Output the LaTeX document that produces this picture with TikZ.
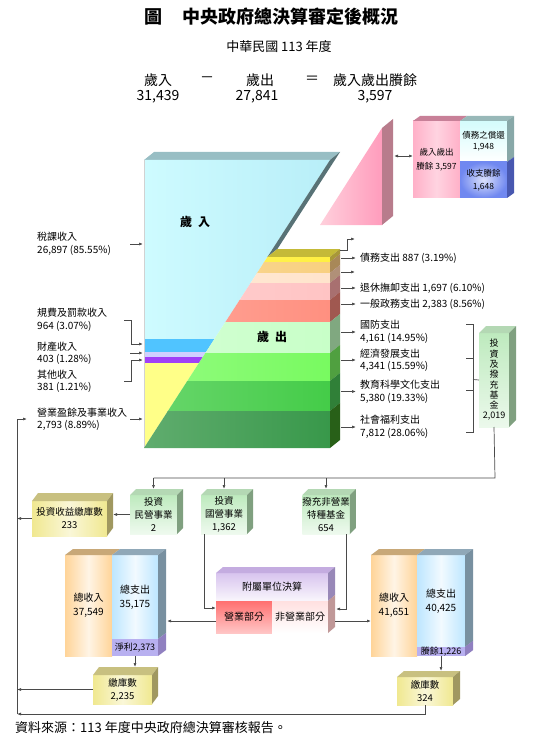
\documentclass[tikz,border=0pt]{standalone}
\usepackage{fontspec}
\setmainfont{Noto Sans CJK TC}
\usepackage{tikz}
\usetikzlibrary{positioning,arrows.meta,calc}
\definecolor{linkcolor}{HTML}{4A4A4A}
\definecolor{revtop}{HTML}{98BEC4}
\definecolor{revside}{HTML}{587276}
\definecolor{rev1}{HTML}{CEFBFF}
\definecolor{rev1b}{HTML}{B8EEF8}
\definecolor{rev2}{HTML}{50C4FF}
\definecolor{rev3}{HTML}{D0D0FF}
\definecolor{rev4}{HTML}{A040F8}
\definecolor{rev5}{HTML}{FFFF88}
\definecolor{exptop}{HTML}{C4BA38}
\definecolor{f1}{HTML}{FFF040}
\definecolor{f2}{HTML}{F8D080}
\definecolor{f3}{HTML}{FFE4CC}
\definecolor{f4}{HTML}{FFC4C4}
\definecolor{f5}{HTML}{FF9080}
\definecolor{f6}{HTML}{C8FFC8}
\definecolor{f7}{HTML}{78FA60}
\definecolor{f8}{HTML}{44CC48}
\definecolor{f9}{HTML}{38984A}
\definecolor{s1}{HTML}{A89838}
\definecolor{s2}{HTML}{A88858}
\definecolor{s3}{HTML}{B09078}
\definecolor{s4}{HTML}{A87070}
\definecolor{s5}{HTML}{A05850}
\definecolor{s6}{HTML}{80A880}
\definecolor{s7}{HTML}{50A040}
\definecolor{s8}{HTML}{308038}
\definecolor{s9}{HTML}{286018}
\definecolor{pinkA}{HTML}{FFD0DC}
\definecolor{pinkB}{HTML}{FF9CBC}
\definecolor{pinkside}{HTML}{B87C8C}
\definecolor{pinktop}{HTML}{C88098}
\definecolor{pinkbox}{HTML}{FFB0C8}
\definecolor{cyanbox}{HTML}{D4FCFC}
\definecolor{cyantop}{HTML}{98B8B8}
\definecolor{cyanside}{HTML}{88A8A8}
\definecolor{bluebox}{HTML}{7088F0}
\definecolor{blueside}{HTML}{4858B0}
\definecolor{grnbox}{HTML}{BEEABE}
\definecolor{grntop}{HTML}{B4D8B4}
\definecolor{grnside}{HTML}{80A080}
\definecolor{ylwbox}{HTML}{F0E890}
\definecolor{ylwtop}{HTML}{C8C080}
\definecolor{ylwside}{HTML}{A09860}
\definecolor{orgbox}{HTML}{FFD498}
\definecolor{orgtop}{HTML}{C8A878}
\definecolor{skybox}{HTML}{BDE6FF}
\definecolor{skytop}{HTML}{90A8B8}
\definecolor{skyside}{HTML}{7890A0}
\definecolor{netbox}{HTML}{B8B0F0}
\definecolor{netside}{HTML}{9080C0}
\definecolor{attbox}{HTML}{D8C4EE}
\definecolor{atttop}{HTML}{C4ACE0}
\definecolor{attside}{HTML}{9888B8}
\definecolor{bizbox}{HTML}{FF7070}
\definecolor{nonbox}{HTML}{FFE0E0}
\definecolor{lowside}{HTML}{C09898}

\newcommand{\boxfont}{\fontsize{9.5}{13}\selectfont}
\newcommand{\lblfont}{\fontsize{10}{12.5}\selectfont}
\newcommand{\cubetop}[4]{\fill[#4] (#1.north west) -- ++(#3) -- ($(#2.north east)+(#3)$) -- (#2.north east) -- cycle;}
\newcommand{\cubeside}[4]{\fill[#4] (#1.north east) -- ++(#3) -- ($(#2.south east)+(#3)$) -- (#2.south east) -- cycle;}

\begin{document}
\begin{tikzpicture}[x=1pt, y=-1pt, >={Latex[length=4pt,width=3pt]},
    face/.style={inner sep=0pt, outer sep=0pt, align=center, font=\boxfont},
    lbl/.style={inner sep=0pt, align=left, anchor=west, font=\lblfont},
    eq/.style={inner sep=0pt, font=\fontsize{14}{16}\selectfont},
    link/.style={draw=linkcolor, line width=0.7pt},
  ]
  \useasboundingbox (0,0) rectangle (540,743);

  \node[font=\fontsize{18}{20}\selectfont\bfseries] (title) at (271,17) {圖\hspace{20pt}中央政府總決算審定後概況};
  \node[font=\fontsize{13}{15}\selectfont] (year) at (279,47) {中華民國 113 年度};
  \node[eq] (rev) at (158,80) {歲入};
  \node[eq] (revn) at (158,97) {31,439};
  \node[eq] (minus) at (207,80) {－};
  \node[eq] (exp) at (260,80) {歲出};
  \node[eq] (expn) at (257,97) {27,841};
  \node[eq] (equal) at (312,80) {＝};
  \node[eq] (bal) at (375,80) {歲入歲出賸餘};
  \node[eq] (baln) at (375,97) {3,597};

  % revenue block
  \fill[revtop] (144,160) -- (154,152) -- (340,152) -- (330,160) -- cycle;
  \begin{scope}
    \clip (144,160) -- (330,160) -- (144,448) -- cycle;
    \shade[left color=rev1, right color=rev1b] (144,160) rectangle (330,339);
    \fill[rev2] (144,339) rectangle (330,352);
    \fill[rev3] (144,352) rectangle (330,357);
    \fill[rev4] (144,357) rectangle (330,363);
    \fill[rev5] (144,363) rectangle (330,448);
  \end{scope}
  \draw[gray!35] (144,160) -- (144,448);
  \fill[revside] (330,160) -- (340,152) -- (277.4,249) -- (267.4,257) -- cycle;

  % expenditure block
  \fill[exptop] (267.4,257) -- (277.4,249) -- (340,249) -- (330,257) -- cycle;
  \begin{scope}
    \clip (267.4,257) -- (330,257) -- (330,448) -- (144,448) -- cycle;
    \foreach \ya/\yb/\c in {257/262/f1, 262/273/f2, 273/283/f3, 283/300/f4, 300/322/f5,
        322/353/f6, 353/381/f7, 381/411/f8, 411/448/f9}
      \shade[left color=\c!80!white, right color=\c] (144,\ya) rectangle (330,\yb);
  \end{scope}
  \foreach \ya/\yb/\c in {257/262/s1, 262/273/s2, 273/283/s3, 283/300/s4, 300/322/s5,
      322/353/s6, 353/381/s7, 381/411/s8, 411/448/s9}
    \fill[\c] (330,\ya) -- (340,{\ya-8}) -- (340,{\yb-8}) -- (330,\yb) -- cycle;

  \node[font=\fontsize{12}{14}\selectfont\bfseries] (revlbl) at (195,222) {歲\hspace{6pt}入};
  \node[font=\fontsize{12}{14}\selectfont\bfseries] (explbl) at (272,337) {歲\hspace{6pt}出};

  % surplus wedge and box
  \shade[left color=pinkA, right color=pinkB] (320,225) -- (382,128) -- (382,225) -- cycle;
  \fill[pinkside] (382,128) -- (393,119) -- (393,216) -- (382,225) -- cycle;
  \coordinate (wedge) at (394,156);

  \node[face, minimum width=47pt, minimum height=77pt, left color=pinkbox, right color=pinkbox,
    middle color=pinkbox!55!white, font=\fontsize{8.5}{14}\selectfont] (gain) at (436.5,159.5) {歲入歲出\\賸餘 3,597};
  \node[face, minimum width=47pt, minimum height=41pt, top color=cyanbox, bottom color=white,
    font=\fontsize{8.5}{11}\selectfont] (repay) at (483.5,141.5) {債務之償還\\1,948};
  \node[face, minimum width=47pt, minimum height=36pt, inner color=bluebox!25!white, outer color=bluebox,
    font=\fontsize{8.5}{13}\selectfont] (surp) at (483.5,180) {收支賸餘\\1,648};
  \cubetop{gain}{gain}{7,-5}{pinktop}
  \cubetop{repay}{repay}{7,-5}{cyantop}
  \cubeside{repay}{repay}{7,-5}{cyanside}
  \cubeside{surp}{surp}{7,-5}{blueside}
  \draw[link, <->] (wedge) -- (wedge -| gain.west);

  % revenue labels
  \coordinate (lx) at (130,0);
  \coordinate (rl) at (143,0);
  \coordinate (bx) at (124,0);
  \node[lbl] (tax) at (37,244) {稅課收入\\26,897 (85.55\%)};
  \node[lbl] (fee) at (37,320) {規費及罰款收入\\964 (3.07\%)};
  \node[lbl] (prop) at (37,353) {財產收入\\403 (1.28\%)};
  \node[lbl] (oth) at (37,381.5) {其他收入\\381 (1.21\%)};
  \node[lbl] (biz) at (37,419) {營業盈餘及事業收入\\2,793 (8.89\%)};
  \coordinate (feein) at (143,344);
  \coordinate (othin) at (143,360);
  \draw[link, ->] (tax.east -| lx) -- (tax.east -| rl);
  \draw[link, ->] (fee.east -| bx) -| ($(feein)+(-12,0)$) -- (feein);
  \draw[link, ->] (prop.east -| lx) -- (prop.east -| rl);
  \draw[link, ->] (oth.east -| bx) -| ($(othin)+(-12,0)$) -- (othin);
  \draw[link, ->] (biz.east -| lx) -- (biz.east -| rl);

  % expenditure labels
  \coordinate (ex) at (341,0);
  \node[lbl] (debt) at (360,258) {債務支出 887 (3.19\%)};
  \node[lbl] (pens) at (360,288) {退休撫卹支出 1,697 (6.10\%)};
  \node[lbl] (gov) at (360,304) {一般政務支出 2,383 (8.56\%)};
  \node[lbl] (def) at (360,332) {國防支出\\4,161 (14.95\%)};
  \node[lbl] (eco) at (360,360) {經濟發展支出\\4,341 (15.59\%)};
  \node[lbl] (edu) at (360,391.5) {教育科學文化支出\\5,380 (19.33\%)};
  \node[lbl] (soc) at (360,427) {社會福利支出\\7,812 (28.06\%)};
  \coordinate (etop) at (340,250);
  \coordinate (ua) at (355,239);
  \coordinate (ub) at (355,272);
  \draw[link, ->] (etop) -- ++(7,0) |- (ua);
  \draw[link, ->] (ub -| ex) -- (ub);
  \foreach \n in {debt, pens, gov, def, eco, edu, soc}
    \draw[link, ->] (\n.west -| ex) -- ($(\n.west)+(-4,0)$);

  % investment fund
  \node[face, minimum width=30pt, minimum height=94pt, top color=grnbox, bottom color=grnbox!30!white,
    font=\fontsize{9}{10.3}\selectfont] (inv) at (494,380) {投\\資\\及\\撥\\充\\基\\金\\2,019};
  \cubetop{inv}{inv}{7,-7}{grntop}
  \cubeside{inv}{inv}{7,-7}{grnside}
  \coordinate (brt) at (473,324);
  \coordinate (brb) at (473,432);
  \draw[link] ($(brt)+(-7,0)$) -- (brt) -- (brb) -- ($(brb)+(-7,0)$);
  \draw[link] (466,358) -- (473,358);
  \draw[link] (466,390) -- (473,390);
  \draw[link] (473,379.5) -- (inv.west);

  % investment targets
  \node[face, minimum width=47pt, minimum height=39pt, top color=grnbox, bottom color=grnbox!25!white] (priv) at (153.5,514.5) {投資\\民營事業\\2};
  \node[face, minimum width=46pt, minimum height=39pt, top color=grnbox, bottom color=grnbox!25!white] (soe) at (224,514.5) {投資\\國營事業\\1,362};
  \node[face, minimum width=46pt, minimum height=39pt, top color=grnbox, bottom color=grnbox!25!white] (fund) at (326,514.5) {撥充非營業\\特種基金\\654};
  \node[face, minimum width=75pt, minimum height=35pt, left color=ylwbox, right color=ylwbox,
    middle color=ylwbox!35!white] (invtax) at (69.5,518.5) {投資收益繳庫數\\233};
  \foreach \n in {priv, soe, fund} {
    \cubetop{\n}{\n}{6,-6}{grntop}
    \cubeside{\n}{\n}{6,-6}{grnside}
  }
  \cubetop{invtax}{invtax}{6,-8}{ylwtop}
  \cubeside{invtax}{invtax}{6,-8}{ylwside}

  \coordinate (tr) at (495,478);
  \draw[link] (inv.south) -- (tr) -- (tr -| priv.north);
  \foreach \n in {priv, soe, fund}
    \draw[link, ->] (tr -| \n.north) -- ($(\n.north)+(0,-6)$);
  \draw[link, ->] (priv.west) -- ($(invtax.east |- priv.west)+(6,0)$);

  % left block (operating funds)
  \node[face, minimum width=47pt, minimum height=101pt, left color=orgbox, right color=orgbox,
    middle color=orgbox!25!white, font=\fontsize{10}{14}\selectfont] (ltotin) at (88.5,605.5) {總收入\\37,549};
  \node[face, minimum width=46pt, minimum height=84pt, left color=skybox, right color=skybox,
    middle color=skybox!20!white, font=\fontsize{10}{14}\selectfont] (ltotex) at (135,597) {總支出\\35,175};
  \node[face, minimum width=46pt, minimum height=17pt, fill=netbox, font=\fontsize{9}{11}\selectfont] (lnet) at (135,647.5) {淨利2,373};
  \cubetop{ltotin}{ltotin}{8,-6}{orgtop}
  \cubetop{ltotex}{ltotex}{8,-6}{skytop}
  \cubeside{ltotex}{ltotex}{8,-6}{skyside}
  \cubeside{lnet}{lnet}{8,-6}{netside}
  \node[face, minimum width=59pt, minimum height=29pt, left color=ylwbox, right color=ylwbox,
    middle color=ylwbox!35!white] (ltax) at (122.5,689.5) {繳庫數\\2,235};
  \cubetop{ltax}{ltax}{6,-8}{ylwtop}
  \cubeside{ltax}{ltax}{6,-8}{ylwside}

  % attached units
  \node[face, minimum width=112pt, minimum height=28pt, top color=attbox, bottom color=attbox!15!white,
    font=\fontsize{10}{12}\selectfont] (att) at (272,587) {附屬單位決算};
  \node[face, minimum width=56pt, minimum height=32pt, top color=bizbox, bottom color=bizbox!40!white,
    font=\fontsize{10}{12}\selectfont] (attbiz) at (244,617) {營業部分};
  \node[face, minimum width=56pt, minimum height=32pt, top color=nonbox, bottom color=white,
    font=\fontsize{10}{12}\selectfont] (attnon) at (300,617) {非營業部分};
  \cubetop{att}{att}{7,-6}{atttop}
  \cubeside{att}{att}{7,-6}{attside}
  \cubeside{attnon}{attnon}{7,-6}{lowside}

  % right block (non-operating funds)
  \node[face, minimum width=46pt, minimum height=101pt, left color=orgbox, right color=orgbox,
    middle color=orgbox!25!white, font=\fontsize{10}{14}\selectfont] (rtotin) at (394,605.5) {總收入\\41,651};
  \node[face, minimum width=48pt, minimum height=92pt, left color=skybox, right color=skybox,
    middle color=skybox!20!white, font=\fontsize{10}{14}\selectfont] (rtotex) at (441,601) {總支出\\40,425};
  \node[face, minimum width=48pt, minimum height=9pt, fill=netbox, font=\fontsize{9}{11}\selectfont] (rsur) at (441,651.5) {賸餘1,226};
  \cubetop{rtotin}{rtotin}{8,-6}{orgtop}
  \cubetop{rtotex}{rtotex}{8,-6}{skytop}
  \cubeside{rtotex}{rtotex}{8,-6}{skyside}
  \cubeside{rsur}{rsur}{8,-6}{netside}
  \node[face, minimum width=56pt, minimum height=28pt, left color=ylwbox, right color=ylwbox,
    middle color=ylwbox!35!white] (rtax) at (425,691) {繳庫數\\324};
  \cubetop{rtax}{rtax}{7,-6}{ylwtop}
  \cubeside{rtax}{rtax}{7,-6}{ylwside}

  % flows
  \draw[link, ->] ($(soe.south west)+(3,0)$) |- ($(attbiz.west)+(0,-9)$);
  \draw[link, ->] ($(fund.south east)+(-3,0)$) |- ($(attnon.east)+(8,-8)$);
  \draw[link, ->] ($(attbiz.west)+(0,4)$) -- ($(ltotex.east |- attbiz.west)+(9,4)$);
  \draw[link, ->] ($(attnon.east)+(7,4)$) -- ($(rtotin.west |- attnon.east)+(0,4)$);
  \draw[link, ->] (lnet.south) -- ($(lnet.south |- ltax.north)+(0,-8)$);
  \draw[link, ->] (rsur.south) -- ($(rsur.south |- rtax.north)+(0,-6)$);

  \coordinate (col) at (17,714);
  \draw[link, ->] (rtax.south) |- (col);
  \draw[link, ->] (col) -- (col |- biz.west) -- ($(biz.west)+(-10,0)$);
  \draw[link, ->] (invtax.west) -- (invtax.west -| col);
  \draw[link, ->] (ltax.west) -- (ltax.west -| col);

  \node[anchor=west, inner sep=0pt, font=\fontsize{13}{15}\selectfont] (src) at (15,728) {資料來源：113 年度中央政府總決算審核報告。};
\end{tikzpicture}
\end{document}
